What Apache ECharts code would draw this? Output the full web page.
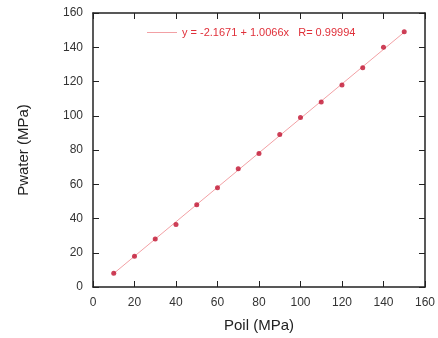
<!DOCTYPE html>
<html><head><meta charset="utf-8">
<script src="https://cdn.jsdelivr.net/npm/echarts@6/dist/echarts.min.js"></script>
<style>html,body{margin:0;padding:0;background:#fff}#c{width:438px;height:338px}</style>
</head><body><div id="c"></div>
<script>
const poil = [10,20,30,40,50,60,70,80,90,100,110,120,130,140,150];
const pwater = [8,18,28,36.5,48,58,69,78,89,99,108,118,128,140,149];
const fitX = [10,150];
const fitY = [7.9,148.8];
const ticks = [0,20,40,60,80,100,120,140,160];
const eqLabel = 'y = -2.1671 + 1.0066x   R= 0.99994';

const chart = echarts.init(document.getElementById('c'), null, {renderer:'canvas'});
const axisCommon = {
  type:'value', min:0, max:160, interval:20,
  axisLine:{show:true, onZero:false, lineStyle:{color:'#222', width:1.5}},
  axisTick:{show:true, inside:true, length:6, lineStyle:{color:'#222', width:1}},
  splitLine:{show:false}
};
chart.setOption({
  animation:false,
  grid:{left:93, right:12, top:13, bottom:51},
  legend:{
    left:147, top:27, padding:0, itemWidth:30, itemHeight:1, icon:'rect', itemGap:0,
    textStyle:{color:'#e0303a', fontFamily:'Liberation Sans, Arial', fontSize:11},
    data:[{name:eqLabel}]
  },
  xAxis:[
    Object.assign({}, axisCommon, {position:'bottom',
      name:'Poil (MPa)', nameLocation:'middle', nameGap:31,
      nameTextStyle:{color:'#222', fontSize:15, fontFamily:'Liberation Sans, Arial'},
      axisLabel:{color:'#333', fontSize:12, margin:10, fontFamily:'Liberation Sans, Arial'}}),
    Object.assign({}, axisCommon, {position:'top', axisLabel:{show:false}})
  ],
  yAxis:[
    Object.assign({}, axisCommon, {position:'left',
      name:'Pwater (MPa)', nameLocation:'middle', nameGap:62,
      nameTextStyle:{color:'#222', fontSize:15, fontFamily:'Liberation Sans, Arial'},
      axisLabel:{color:'#333', fontSize:12, margin:10, fontFamily:'Liberation Sans, Arial'}}),
    Object.assign({}, axisCommon, {position:'right', axisLabel:{show:false}})
  ],
  series:[
    {name:eqLabel, type:'line', symbol:'none', data:fitX.map((x,i)=>[x,fitY[i]]),
     lineStyle:{color:'#f2a0a4', width:1}, itemStyle:{color:'#f2a0a4'}, z:1},
    {name:'data', type:'scatter', symbol:'circle', symbolSize:5,
     data:poil.map((x,i)=>[x,pwater[i]]), itemStyle:{color:'#c0102e'}, z:3}
  ]
});
</script></body></html>
